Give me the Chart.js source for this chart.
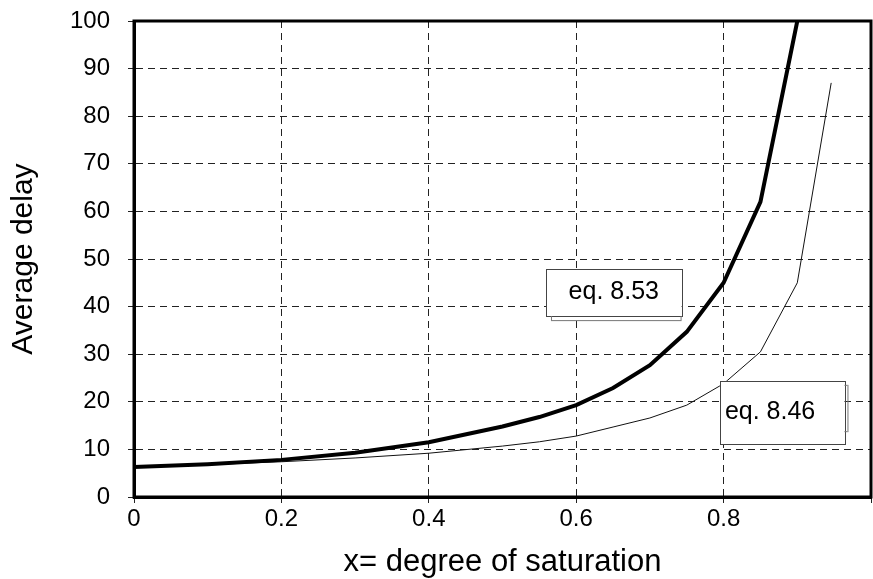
<!DOCTYPE html>
<html>
<head>
<meta charset="utf-8">
<script src="https://cdn.jsdelivr.net/npm/chart.js@4/dist/chart.umd.min.js"></script>
<style>
	html,body{margin:0;padding:0;background:#fff}
	#wrap{width:873px;height:579px}
</style>
</head>
<body>
<div id="wrap"><canvas id="chart" width="873" height="579"></canvas></div>
<script>
// degree of saturation values
const xs853 = [0, 0.1, 0.2, 0.3, 0.4, 0.5, 0.55, 0.6, 0.65, 0.7, 0.75, 0.8, 0.85, 0.9]
const delay853 = [6.3, 6.9, 7.8, 9.3, 11.5, 14.8, 16.8, 19.3, 22.9, 27.7, 34.7, 45, 62, 100]
const xs846 = [0, 0.1, 0.2, 0.3, 0.4, 0.5, 0.55, 0.6, 0.65, 0.7, 0.75, 0.8, 0.85, 0.9, 0.946]
const delay846 = [6.3, 6.8, 7.4, 8.2, 9.2, 10.7, 11.6, 12.8, 14.7, 16.6, 19.3, 23.8, 30.5, 45, 87]
const xTicks = [0, 0.2, 0.4, 0.6, 0.8]
const yTicks = [0, 10, 20, 30, 40, 50, 60, 70, 80, 90, 100]

const pts = (xs, ys) => xs.map((x,i)=> ({x, y: ys[i]}))
const FONT = 'Arial, "Liberation Sans", sans-serif'

// text boxes placed in data coordinates
const labelBoxes = [
	{ text: 'eq. 8.53', x0: 0.559, x1: 0.743, y0: 47.9, y1: 38, align: 'center', shadow: 'bottom' },
	{ text: 'eq. 8.46', x0: 0.795, x1: 0.964, y0: 24.4, y1: 11.1, align: 'left', shadow: 'right' }
]

const framePlugin = {
	id: 'frame',
	afterDatasetsDraw(chart){
		const {ctx, chartArea: a, scales: {x, y}} = chart
		ctx.save()
		labelBoxes.forEach(b => {
			const l = x.getPixelForValue(b.x0), r = x.getPixelForValue(b.x1)
			const t = y.getPixelForValue(b.y0), btm = y.getPixelForValue(b.y1)
			ctx.fillStyle = '#fff'
			ctx.fillRect(l, t, r-l, btm-t)
			ctx.strokeStyle = '#444'; ctx.lineWidth = 1
			ctx.strokeRect(Math.round(l)+0.5, Math.round(t)+0.5, Math.round(r-l), Math.round(btm-t))
			ctx.strokeStyle = '#777'
			ctx.beginPath()
			if(b.shadow === 'bottom'){
				ctx.moveTo(l+5, btm+4.5); ctx.lineTo(r, btm+4.5); ctx.moveTo(l+5.5, btm); ctx.lineTo(l+5.5, btm+4)
				ctx.moveTo(r-0.5, btm); ctx.lineTo(r-0.5, btm+4)
			} else {
				ctx.moveTo(r+3.5, t+4); ctx.lineTo(r+3.5, btm-12); ctx.moveTo(r, t+4.5); ctx.lineTo(r+3, t+4.5)
				ctx.moveTo(r, btm-12.5); ctx.lineTo(r+3, btm-12.5)
			}
			ctx.stroke()
			ctx.fillStyle = '#000'
			ctx.font = '25px ' + FONT
			ctx.textBaseline = 'middle'
			if(b.align === 'center'){ ctx.textAlign = 'center'; ctx.fillText(b.text, (l+r)/2, (t+btm)/2) }
			else { ctx.textAlign = 'left'; ctx.fillText(b.text, l+5, (t+btm)/2) }
		})
		// solid outer frame
		ctx.strokeStyle = '#000'; ctx.lineWidth = 3
		ctx.strokeRect(a.left, a.top, a.right-a.left, a.bottom-a.top)
		ctx.restore()
	}
}

new Chart(document.getElementById('chart').getContext('2d'), {
	type: 'line',
	data: {
		datasets: [
			{ label: 'eq. 8.53', data: pts(xs853, delay853), borderColor: '#000', borderWidth: 4, pointRadius: 0, tension: 0 },
			{ label: 'eq. 8.46', data: pts(xs846, delay846), borderColor: '#111', borderWidth: 1, pointRadius: 0, tension: 0 }
		]
	},
	options: {
		responsive: false,
		animation: false,
		events: [],
		layout: { padding: { top: 21, right: 2, left: 0, bottom: 0 } },
		plugins: { legend: { display: false }, tooltip: { enabled: false } },
		scales: {
			x: {
				type: 'linear', min: 0, max: 1,
				afterFit: s => { s.height = 82; s.paddingLeft = 0; s.paddingRight = 0 },
				afterBuildTicks: s => { s.ticks = xTicks.concat([1]).map(v => ({value: v})) },
				ticks: { color: '#000', font: { family: FONT, size: 24 }, padding: 2, maxRotation: 0,
					callback: v => xTicks.includes(v) ? String(v) : '' },
				grid: { color: '#222', lineWidth: 1, tickLength: 6, drawOnChartArea: true },
				border: { display: true, color: '#000', width: 3, dash: [7,5] },
				title: { display: true, text: 'x= degree of saturation', color: '#000', font: { family: FONT, size: 31, lineHeight: 1 }, padding: { top: 0, bottom: 1 } }
			},
			y: {
				min: 0, max: 100,
				afterFit: s => { s.width = 134; s.paddingTop = 0; s.paddingBottom = 0 },
				afterBuildTicks: s => { s.ticks = yTicks.map(v => ({value: v})) },
				ticks: { color: '#000', font: { family: FONT, size: 24 }, padding: 18 },
				grid: { color: '#222', lineWidth: 1, tickLength: 6 },
				border: { display: true, color: '#000', width: 3, dash: [7,5] },
				title: { display: true, text: 'Average delay', color: '#000', font: { family: FONT, size: 30, lineHeight: 1 }, padding: { top: 9, bottom: 0 } }
			}
		}
	},
	plugins: [framePlugin]
})
</script>
</body>
</html>
